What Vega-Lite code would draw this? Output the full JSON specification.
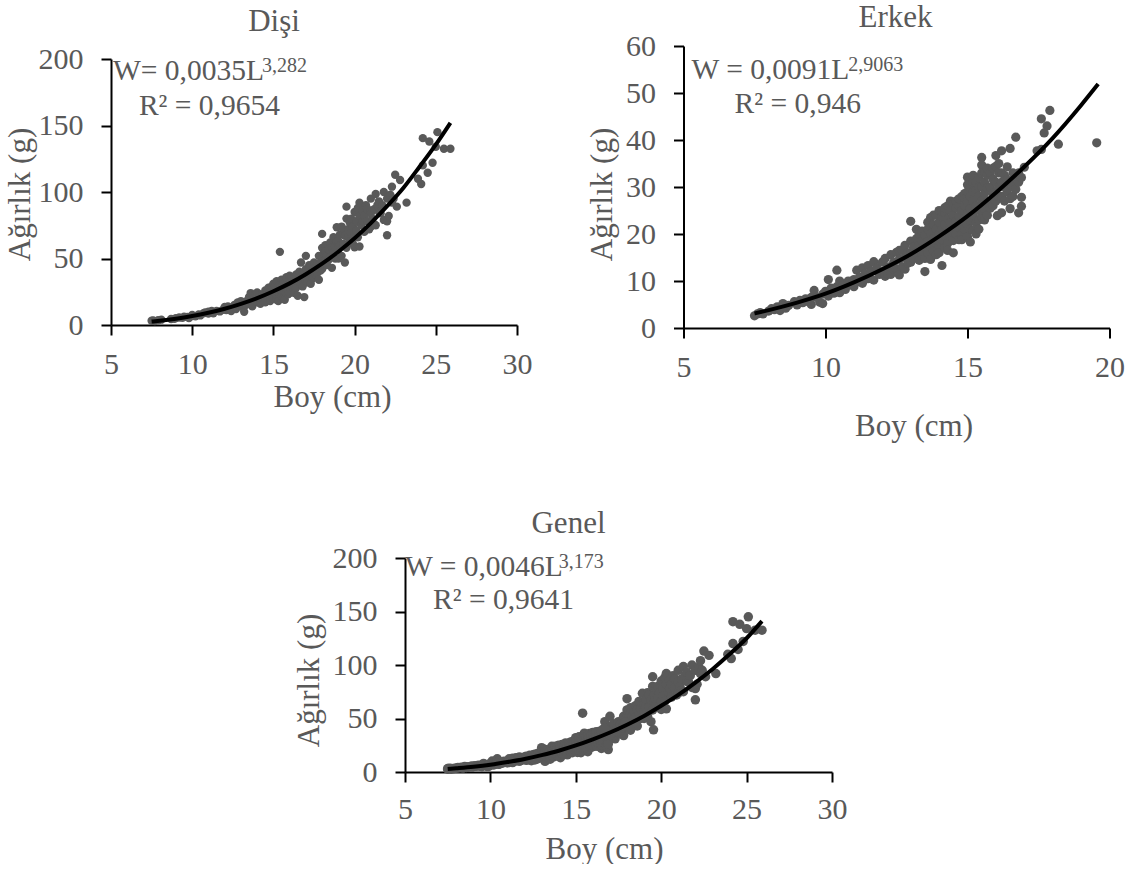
{"$schema":"https://vega.github.io/schema/vega-lite/v6.json","padding":{"left":3,"top":1,"right":0,"bottom":0},"background":"white","bounds":"flush","spacing":512,
"config":{"view":{"stroke":null},"font":"Liberation Serif","title":{"font":"Liberation Serif","fontSize":31,"fontWeight":"normal","color":"#595959"},"axis":{"grid":false,"labelFlush":false,"labelOverlap":false,"domainColor":"#000000","domainWidth":2,"tickColor":"#000000","tickWidth":2,"tickSize":10,"labelFont":"Liberation Serif","labelFontSize":30,"labelColor":"#595959","titleFont":"Liberation Serif","titleFontSize":31,"titleFontWeight":"normal","titleColor":"#595959"}},
"datasets":{
"disi":[{"x":7.5,"y":3.2},{"x":7.6,"y":3.5},{"x":7.7,"y":2.9},{"x":7.9,"y":3.6},{"x":8.1,"y":4},{"x":8.7,"y":4.5},{"x":8.9,"y":4.6},{"x":9,"y":5.2},{"x":9.2,"y":5.6},{"x":9.4,"y":5.4},{"x":9.5,"y":6.2},{"x":9.7,"y":6},{"x":9.8,"y":5.2},{"x":10,"y":6.8},{"x":10,"y":7.6},{"x":10.2,"y":6.6},{"x":10.4,"y":8},{"x":10.5,"y":7.2},{"x":10.7,"y":8.8},{"x":10.8,"y":9.5},{"x":11,"y":8.6},{"x":11,"y":10},{"x":11.2,"y":10.5},{"x":11.3,"y":8.8},{"x":11.5,"y":10.6},{"x":11.7,"y":10.2},{"x":11.9,"y":11.5},{"x":12,"y":13.5},{"x":12.1,"y":11.2},{"x":12.2,"y":14},{"x":12.3,"y":12.1},{"x":12.4,"y":10.5},{"x":12.5,"y":13.6},{"x":12.6,"y":15},{"x":12.7,"y":12},{"x":12.8,"y":17},{"x":12.9,"y":14.8},{"x":13,"y":16},{"x":13,"y":18},{"x":13.1,"y":13.5},{"x":13.2,"y":10},{"x":13.3,"y":15},{"x":13.4,"y":18.5},{"x":13.5,"y":21},{"x":13.5,"y":16},{"x":13.6,"y":24},{"x":13.7,"y":19},{"x":13.7,"y":14},{"x":13.8,"y":21},{"x":13.9,"y":23},{"x":14,"y":17},{"x":14,"y":24.5},{"x":14.1,"y":20},{"x":14.2,"y":16},{"x":14.2,"y":23},{"x":14.3,"y":22},{"x":14.4,"y":19},{"x":14.5,"y":26},{"x":14.5,"y":17},{"x":14.6,"y":24},{"x":14.7,"y":28},{"x":14.7,"y":21},{"x":14.8,"y":18},{"x":14.8,"y":25},{"x":14.9,"y":29},{"x":15,"y":31},{"x":15,"y":24},{"x":15,"y":20},{"x":15.1,"y":27},{"x":15.1,"y":29.5},{"x":15.2,"y":33},{"x":15.2,"y":22},{"x":15.2,"y":19},{"x":15.3,"y":18},{"x":15.3,"y":25},{"x":15.4,"y":55},{"x":15.4,"y":30},{"x":15.5,"y":25},{"x":15.5,"y":34},{"x":15.5,"y":21},{"x":15.6,"y":20},{"x":15.6,"y":31},{"x":15.7,"y":19},{"x":15.7,"y":28},{"x":15.8,"y":36},{"x":15.8,"y":24},{"x":15.9,"y":23},{"x":15.9,"y":33},{"x":16,"y":37},{"x":16,"y":31},{"x":16,"y":24},{"x":16.1,"y":26},{"x":16.1,"y":36},{"x":16.2,"y":34},{"x":16.2,"y":28},{"x":16.3,"y":29},{"x":16.3,"y":24},{"x":16.4,"y":38},{"x":16.4,"y":28},{"x":16.5,"y":22},{"x":16.5,"y":33},{"x":16.6,"y":40},{"x":16.6,"y":35},{"x":16.7,"y":47},{"x":16.7,"y":31},{"x":16.8,"y":36},{"x":16.8,"y":29},{"x":16.9,"y":21},{"x":16.9,"y":38},{"x":17,"y":52},{"x":17,"y":42},{"x":17,"y":33},{"x":17.1,"y":38},{"x":17.1,"y":32},{"x":17.2,"y":45},{"x":17.2,"y":36},{"x":17.3,"y":31},{"x":17.4,"y":41},{"x":17.4,"y":35},{"x":17.5,"y":36},{"x":17.5,"y":47},{"x":17.6,"y":44},{"x":17.6,"y":38},{"x":17.7,"y":39},{"x":17.7,"y":46},{"x":17.8,"y":34},{"x":17.8,"y":52},{"x":17.9,"y":47},{"x":17.9,"y":41},{"x":18,"y":68.5},{"x":18,"y":58},{"x":18,"y":42},{"x":18,"y":51},{"x":18.1,"y":54},{"x":18.1,"y":46},{"x":18.2,"y":49},{"x":18.2,"y":60},{"x":18.2,"y":55},{"x":18.3,"y":45},{"x":18.3,"y":52},{"x":18.4,"y":57},{"x":18.4,"y":49},{"x":18.5,"y":51},{"x":18.5,"y":62},{"x":18.6,"y":43},{"x":18.6,"y":58},{"x":18.7,"y":66},{"x":18.7,"y":55},{"x":18.8,"y":59},{"x":18.8,"y":50},{"x":18.9,"y":73.5},{"x":18.9,"y":63},{"x":19,"y":50},{"x":19,"y":63},{"x":19,"y":57},{"x":19.1,"y":68},{"x":19.1,"y":60},{"x":19.2,"y":74},{"x":19.2,"y":52},{"x":19.3,"y":61},{"x":19.3,"y":72},{"x":19.4,"y":47},{"x":19.4,"y":67},{"x":19.5,"y":89},{"x":19.5,"y":80},{"x":19.5,"y":58},{"x":19.6,"y":72},{"x":19.6,"y":66},{"x":19.7,"y":63},{"x":19.7,"y":77},{"x":19.8,"y":69},{"x":19.8,"y":80},{"x":19.9,"y":74},{"x":19.9,"y":61},{"x":20,"y":58.5},{"x":20,"y":66},{"x":20,"y":85},{"x":20.1,"y":78},{"x":20.1,"y":71},{"x":20.1,"y":85},{"x":20.2,"y":88},{"x":20.2,"y":66},{"x":20.3,"y":92},{"x":20.3,"y":59},{"x":20.3,"y":82},{"x":20.4,"y":75},{"x":20.4,"y":90},{"x":20.5,"y":86},{"x":20.5,"y":78},{"x":20.6,"y":70},{"x":20.6,"y":82},{"x":20.7,"y":90},{"x":20.8,"y":78},{"x":20.8,"y":87},{"x":20.9,"y":72},{"x":21,"y":95},{"x":21,"y":84},{"x":21,"y":74},{"x":21.1,"y":80},{"x":21.2,"y":87},{"x":21.2,"y":76},{"x":21.3,"y":98.5},{"x":21.3,"y":75},{"x":21.4,"y":90},{"x":21.5,"y":93},{"x":21.5,"y":85},{"x":21.6,"y":84},{"x":21.7,"y":90},{"x":21.8,"y":100},{"x":21.8,"y":79},{"x":22,"y":67.5},{"x":22,"y":78},{"x":22,"y":95},{"x":22.1,"y":82},{"x":22.2,"y":98},{"x":22.3,"y":104},{"x":22.3,"y":92},{"x":22.4,"y":95},{"x":22.5,"y":113},{"x":22.6,"y":89},{"x":22.8,"y":109},{"x":23.2,"y":92},{"x":23.9,"y":110},{"x":24.1,"y":106},{"x":24.2,"y":120},{"x":24.2,"y":140.5},{"x":24.5,"y":114.5},{"x":24.6,"y":138},{"x":24.8,"y":122},{"x":25,"y":134},{"x":25.1,"y":145},{"x":25.5,"y":132.5},{"x":25.9,"y":132.5}],
"erkek":[{"x":7.5,"y":2.6},{"x":7.6,"y":3},{"x":7.7,"y":3.3},{"x":7.8,"y":3},{"x":8,"y":3.6},{"x":8.1,"y":4.1},{"x":8.2,"y":3.9},{"x":8.3,"y":4.5},{"x":8.4,"y":3.7},{"x":8.5,"y":5.2},{"x":8.6,"y":4.2},{"x":8.7,"y":4.8},{"x":8.9,"y":5.6},{"x":9,"y":4.9},{"x":9.1,"y":5.9},{"x":9.2,"y":5.4},{"x":9.3,"y":6.2},{"x":9.4,"y":5.6},{"x":9.5,"y":6.5},{"x":9.5,"y":5},{"x":9.6,"y":8},{"x":9.7,"y":6.5},{"x":9.8,"y":5.5},{"x":9.9,"y":7.2},{"x":9.9,"y":5.2},{"x":10,"y":7.8},{"x":10.1,"y":10.3},{"x":10.1,"y":6.8},{"x":10.2,"y":8.5},{"x":10.3,"y":7.4},{"x":10.4,"y":12.3},{"x":10.4,"y":8.8},{"x":10.5,"y":10},{"x":10.5,"y":7.5},{"x":10.6,"y":9},{"x":10.7,"y":8.2},{"x":10.8,"y":10},{"x":10.9,"y":9.2},{"x":11,"y":8.8},{"x":11,"y":10.3},{"x":11.1,"y":12.3},{"x":11.1,"y":9.8},{"x":11.2,"y":10.8},{"x":11.3,"y":12.8},{"x":11.3,"y":9.5},{"x":11.4,"y":11.5},{"x":11.5,"y":13.3},{"x":11.5,"y":10.5},{"x":11.6,"y":12},{"x":11.7,"y":14.1},{"x":11.7,"y":10.2},{"x":11.8,"y":12.8},{"x":11.9,"y":11.4},{"x":12,"y":14},{"x":12,"y":12},{"x":12.1,"y":11},{"x":12.1,"y":14.8},{"x":12.2,"y":13},{"x":12.2,"y":11.5},{"x":12.3,"y":15.6},{"x":12.3,"y":11.4},{"x":12.4,"y":14},{"x":12.4,"y":12.5},{"x":12.5,"y":16.1},{"x":12.5,"y":12.6},{"x":12.6,"y":14.6},{"x":12.6,"y":11.3},{"x":12.6,"y":16.5},{"x":12.7,"y":16.5},{"x":12.7,"y":13},{"x":12.8,"y":15},{"x":12.8,"y":17.6},{"x":12.8,"y":12.5},{"x":12.9,"y":13.8},{"x":12.9,"y":16},{"x":13,"y":22.7},{"x":13,"y":18.5},{"x":13,"y":16},{"x":13,"y":14},{"x":13.1,"y":17.2},{"x":13.1,"y":14.8},{"x":13.2,"y":21},{"x":13.2,"y":19},{"x":13.2,"y":16},{"x":13.3,"y":17.6},{"x":13.3,"y":14.4},{"x":13.3,"y":20},{"x":13.4,"y":20.6},{"x":13.4,"y":18.5},{"x":13.4,"y":15.8},{"x":13.5,"y":12},{"x":13.5,"y":19.7},{"x":13.5,"y":17},{"x":13.5,"y":14.8},{"x":13.6,"y":21},{"x":13.6,"y":18.4},{"x":13.6,"y":16},{"x":13.6,"y":22.5},{"x":13.7,"y":23.5},{"x":13.7,"y":20},{"x":13.7,"y":17.4},{"x":13.7,"y":14.6},{"x":13.8,"y":22},{"x":13.8,"y":19},{"x":13.8,"y":16.4},{"x":13.8,"y":24},{"x":13.9,"y":24},{"x":13.9,"y":21},{"x":13.9,"y":18},{"x":13.9,"y":15.6},{"x":14,"y":25},{"x":14,"y":22.5},{"x":14,"y":20},{"x":14,"y":17.5},{"x":14,"y":16},{"x":14,"y":18.5},{"x":14.1,"y":13.3},{"x":14.1,"y":23.6},{"x":14.1,"y":21},{"x":14.1,"y":18.8},{"x":14.1,"y":24.8},{"x":14.2,"y":24.6},{"x":14.2,"y":22},{"x":14.2,"y":19.8},{"x":14.2,"y":17},{"x":14.2,"y":25.6},{"x":14.3,"y":26},{"x":14.3,"y":23.2},{"x":14.3,"y":20.6},{"x":14.3,"y":18},{"x":14.3,"y":16.5},{"x":14.4,"y":25},{"x":14.4,"y":22.4},{"x":14.4,"y":19.5},{"x":14.4,"y":27},{"x":14.5,"y":26.4},{"x":14.5,"y":24},{"x":14.5,"y":21},{"x":14.5,"y":18.6},{"x":14.5,"y":16},{"x":14.6,"y":25.6},{"x":14.6,"y":22.8},{"x":14.6,"y":20},{"x":14.6,"y":27},{"x":14.7,"y":26},{"x":14.7,"y":23.8},{"x":14.7,"y":21.4},{"x":14.7,"y":18.8},{"x":14.7,"y":27.5},{"x":14.8,"y":28},{"x":14.8,"y":25},{"x":14.8,"y":22.4},{"x":14.8,"y":20},{"x":14.8,"y":18.8},{"x":14.9,"y":28.6},{"x":14.9,"y":26},{"x":14.9,"y":23.4},{"x":14.9,"y":21},{"x":14.9,"y":27.5},{"x":15,"y":32.1},{"x":15,"y":29},{"x":15,"y":26.8},{"x":15,"y":24.4},{"x":15,"y":22},{"x":15,"y":19.4},{"x":15,"y":30.5},{"x":15.1,"y":18.3},{"x":15.1,"y":28},{"x":15.1,"y":25.4},{"x":15.1,"y":23},{"x":15.1,"y":30},{"x":15.1,"y":21},{"x":15.2,"y":31},{"x":15.2,"y":27},{"x":15.2,"y":24},{"x":15.2,"y":20.8},{"x":15.2,"y":29},{"x":15.2,"y":32.5},{"x":15.3,"y":29.4},{"x":15.3,"y":26},{"x":15.3,"y":22.4},{"x":15.3,"y":31},{"x":15.3,"y":20},{"x":15.4,"y":32},{"x":15.4,"y":28},{"x":15.4,"y":25},{"x":15.4,"y":21},{"x":15.4,"y":30},{"x":15.4,"y":23},{"x":15.5,"y":36.3},{"x":15.5,"y":34.7},{"x":15.5,"y":33},{"x":15.5,"y":30},{"x":15.5,"y":27},{"x":15.5,"y":23.6},{"x":15.5,"y":25},{"x":15.6,"y":31},{"x":15.6,"y":28.6},{"x":15.6,"y":25.4},{"x":15.6,"y":33},{"x":15.6,"y":23},{"x":15.7,"y":32.5},{"x":15.7,"y":29.8},{"x":15.7,"y":24},{"x":15.7,"y":27},{"x":15.7,"y":34},{"x":15.8,"y":33},{"x":15.8,"y":30},{"x":15.8,"y":27},{"x":15.8,"y":25.5},{"x":15.9,"y":31.6},{"x":15.9,"y":28.6},{"x":15.9,"y":34},{"x":15.9,"y":26},{"x":16,"y":36.7},{"x":16,"y":34.4},{"x":16,"y":31},{"x":16,"y":29},{"x":16,"y":27},{"x":16.05,"y":23.9},{"x":16.1,"y":33},{"x":16.1,"y":30},{"x":16.1,"y":28},{"x":16.1,"y":35},{"x":16.2,"y":37.7},{"x":16.2,"y":31},{"x":16.2,"y":28},{"x":16.2,"y":24.5},{"x":16.2,"y":33},{"x":16.3,"y":30},{"x":16.3,"y":32.5},{"x":16.3,"y":27},{"x":16.4,"y":34.3},{"x":16.4,"y":29},{"x":16.4,"y":31.5},{"x":16.5,"y":38.2},{"x":16.5,"y":31},{"x":16.5,"y":27.5},{"x":16.5,"y":25.4},{"x":16.6,"y":33},{"x":16.6,"y":30},{"x":16.6,"y":28},{"x":16.7,"y":40.6},{"x":16.7,"y":32},{"x":16.7,"y":29.5},{"x":16.8,"y":33},{"x":16.8,"y":31},{"x":16.8,"y":24.5},{"x":16.9,"y":32},{"x":16.9,"y":27.8},{"x":16.9,"y":25.9},{"x":17,"y":34.2},{"x":17.45,"y":37.7},{"x":17.6,"y":38},{"x":17.6,"y":44.5},{"x":17.7,"y":41.5},{"x":17.8,"y":43},{"x":17.9,"y":46.3},{"x":18.2,"y":39.1},{"x":19.55,"y":39.4}]
},
"vconcat":[
{"bounds":"flush","spacing":572.5,"hconcat":[
 {"bounds":"flush","spacing":0,"vconcat":[
  {"width":406,"height":13,"data":{"values":[{"a":1}]},"mark":{"type":"point","opacity":0}},
  {"width":406,"height":266,"title":{"text":"Dişi","offset":6,"dx":-40},
   "encoding":{"x":{"field":"x","type":"quantitative","scale":{"domain":[5,30],"nice":false,"zero":false,"padding":0},"axis":{"values":[5,10,15,20,25,30],"labelPadding":14,"title":"Boy (cm)","titleX":221,"titleY":57}},
               "y":{"field":"y","type":"quantitative","scale":{"domain":[0,200],"nice":false,"padding":0},"axis":{"values":[0,50,100,150,200],"labelPadding":18,"title":"Ağırlık (g)","titleX":-75,"titleY":135}}},
   "layer":[
    {"data":{"name":"disi"},"mark":{"type":"circle","size":70,"opacity":1,"color":"#595959"}},
    {"data":{"values":[{"x":7.5,"y":2.6},{"x":8,"y":3.2},{"x":9,"y":4.7},{"x":10,"y":6.7},{"x":11,"y":9.2},{"x":12,"y":12.2},{"x":13,"y":15.9},{"x":14,"y":20.2},{"x":15,"y":25.4},{"x":16,"y":31.3},{"x":17,"y":38.2},{"x":18,"y":46.1},{"x":19,"y":55.1},{"x":20,"y":65.2},{"x":21,"y":76.6},{"x":22,"y":89.3},{"x":23,"y":103},{"x":24,"y":119},{"x":25,"y":135.6},{"x":25.9,"y":152}]},"mark":{"type":"line","color":"#000000","strokeWidth":4,"interpolate":"monotone"}},
    {"data":{"values":[{"x":5.12,"y":184,"t":"W= 0,0035L"},{"x":6.72,"y":158,"t":"R² = 0,9654"}]},"mark":{"type":"text","align":"left","baseline":"alphabetic","fontSize":29.5,"color":"#595959"},"encoding":{"text":{"field":"t"}}},
    {"data":{"values":[{"x":14.3,"y":190,"t":"3,282"}]},"mark":{"type":"text","align":"left","baseline":"alphabetic","fontSize":20,"color":"#595959"},"encoding":{"text":{"field":"t"}}}
   ]}
 ]},
 {"width":426,"height":282,"title":{"text":"Erkek","offset":-2.5,"dx":-1},
   "encoding":{"x":{"field":"x","type":"quantitative","scale":{"domain":[5,20],"nice":false,"zero":false,"padding":0},"axis":{"values":[5,10,15,20],"labelPadding":14,"title":"Boy (cm)","titleX":230,"titleY":83}},
               "y":{"field":"y","type":"quantitative","scale":{"domain":[0,60],"nice":false,"padding":0},"axis":{"values":[0,10,20,30,40,50,60],"labelPadding":18,"title":"Ağırlık (g)","titleX":-65,"titleY":148}}},
   "layer":[
    {"data":{"name":"erkek"},"mark":{"type":"circle","size":85,"opacity":1,"color":"#595959"}},
    {"data":{"values":[{"x":7.5,"y":3.1},{"x":8,"y":3.8},{"x":9,"y":5.4},{"x":10,"y":7.3},{"x":11,"y":9.7},{"x":12,"y":12.5},{"x":13,"y":15.7},{"x":14,"y":19.5},{"x":15,"y":23.8},{"x":16,"y":28.8},{"x":17,"y":34.3},{"x":18,"y":40.4},{"x":19,"y":47.4},{"x":19.6,"y":51.9}]},"mark":{"type":"line","color":"#000000","strokeWidth":4,"interpolate":"monotone"}},
    {"data":{"values":[{"x":5.28,"y":52.9,"t":"W = 0,0091L"},{"x":6.8,"y":45.8,"t":"R² = 0,946"}]},"mark":{"type":"text","align":"left","baseline":"alphabetic","fontSize":29.5,"color":"#595959"},"encoding":{"text":{"field":"t"}}},
    {"data":{"values":[{"x":10.8,"y":54.7,"t":"2,9063"}]},"mark":{"type":"text","align":"left","baseline":"alphabetic","fontSize":20,"color":"#595959"},"encoding":{"text":{"field":"t"}}}
   ]}
]},
{"bounds":"flush","spacing":0,"hconcat":[
 {"width":294,"height":214,"data":{"values":[{"a":1}]},"mark":{"type":"point","opacity":0}},
 {"width":427,"height":214,"title":{"text":"Genel","offset":3,"dx":-50},
   "encoding":{"x":{"field":"x","type":"quantitative","scale":{"domain":[5,30],"nice":false,"zero":false,"padding":0},"axis":{"values":[5,10,15,20,25,30],"labelPadding":12,"title":"Boy (cm)","titleX":199,"titleY":62}},
               "y":{"field":"y","type":"quantitative","scale":{"domain":[0,200],"nice":false,"padding":0},"axis":{"values":[0,50,100,150,200],"labelPadding":18,"title":"Ağırlık (g)","titleX":-80,"titleY":122}}},
   "layer":[
    {"data":{"name":"disi"},"mark":{"type":"circle","size":90,"opacity":1,"color":"#595959"}},
    {"data":{"name":"erkek"},"mark":{"type":"circle","size":90,"opacity":1,"color":"#595959"}},
    {"data":{"values":[{"x":7.5,"y":2.7},{"x":8,"y":3.4},{"x":9,"y":4.9},{"x":10,"y":6.8},{"x":11,"y":9.3},{"x":12,"y":12.2},{"x":13,"y":15.8},{"x":14,"y":19.9},{"x":15,"y":24.8},{"x":16,"y":30.5},{"x":17,"y":36.9},{"x":18,"y":44.2},{"x":19,"y":52.4},{"x":20,"y":61.9},{"x":21,"y":72.1},{"x":22,"y":83.6},{"x":23,"y":96.1},{"x":24,"y":110},{"x":25,"y":125},{"x":25.9,"y":141}]},"mark":{"type":"line","color":"#000000","strokeWidth":4,"interpolate":"monotone"}},
    {"data":{"values":[{"x":5,"y":183,"t":"W = 0,0046L"},{"x":6.64,"y":152,"t":"R² = 0,9641"}]},"mark":{"type":"text","align":"left","baseline":"alphabetic","fontSize":29.5,"color":"#595959"},"encoding":{"text":{"field":"t"}}},
    {"data":{"values":[{"x":14,"y":191,"t":"3,173"}]},"mark":{"type":"text","align":"left","baseline":"alphabetic","fontSize":20,"color":"#595959"},"encoding":{"text":{"field":"t"}}}
   ]}
]}
]}
